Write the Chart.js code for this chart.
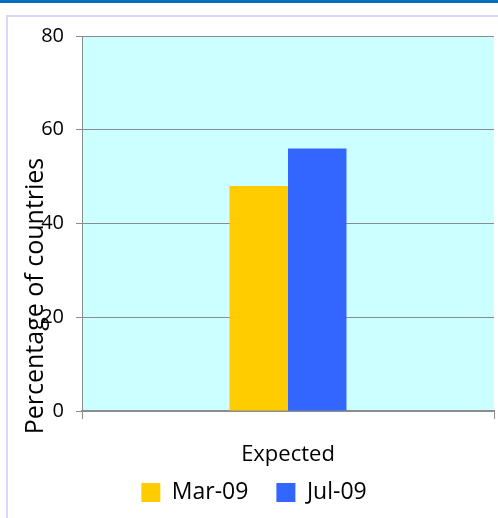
<!DOCTYPE html>
<html>
<head>
<meta charset="utf-8">
<script src="https://cdn.jsdelivr.net/npm/chart.js@4/dist/chart.umd.min.js"></script>
<style>
body{margin:0;background:#fff;overflow:hidden;}
#wrap{position:relative;width:498px;height:518px;}
#topBand{position:absolute;left:0;top:0;width:498px;height:3px;background:#0070c0;}
#frame{position:absolute;left:6px;top:15px;width:600px;height:600px;border:2px solid #d8d8fc;}
#barChart{position:absolute;left:0;top:0;}
</style>
</head>
<body>
<div id="wrap">
<div id="topBand"></div>
<div id="frame"></div>
<canvas id="barChart" width="498" height="518"></canvas>
</div>
<script>
var categories = ["Expected"];//one category on the x axis
var marValues = [48];//Mar-09 series
var julValues = [56];//Jul-09 series
var seriesNames = ["Mar-09", "Jul-09"];
var yTicks = [0, 20, 40, 60, 80];
var yTitle = "Percentage of countries";

var fontName = "'Open Sans', sans-serif";

//fills the plot area with the light cyan colour and draws the y axis title
var plotBack = {
	id: "plotBack",
	beforeDraw: function(chart){
		var a = chart.chartArea;
		var c = chart.ctx;
		c.save();
		c.fillStyle = "#ccffff";
		c.fillRect(a.left, a.top, a.right - a.left, a.bottom - a.top);
		c.restore();
	},
	afterDraw: function(chart){
		var c = chart.ctx;
		c.save();
		c.translate(43, 296);
		c.rotate(-Math.PI / 2);
		c.font = "25px " + fontName;
		c.fillStyle = "#000";
		c.textAlign = "center";
		c.textBaseline = "alphabetic";
		c.fillText(yTitle, 0, 0);
		c.restore();
	}
};

var ctx = document.getElementById("barChart").getContext("2d");
var chart = new Chart(ctx, {
	type: "bar",
	data: {
		labels: categories,
		datasets: [
			{label: seriesNames[0], data: marValues, backgroundColor: "#ffcc00"},
			{label: seriesNames[1], data: julValues, backgroundColor: "#3366ff"}
		]
	},
	options: {
		responsive: false,
		animation: false,
		layout: {padding: {left: 14, right: 4, top: 36, bottom: 4}},
		datasets: {bar: {barPercentage: 1, categoryPercentage: 0.284}},
		scales: {
			x: {
				afterFit: function(scale){ scale.height = 42; },
				grid: {drawOnChartArea: false, tickLength: 8, color: "#8c8c8c"},
				border: {color: "#8c8c8c", width: 2},
				//mirror keeps the label from being clipped to the short axis box
				ticks: {font: {family: fontName, size: 22}, color: "#000", mirror: true, padding: -57}
			},
			y: {
				min: 0,
				max: 80,
				afterFit: function(scale){ scale.width = 68; },
				afterBuildTicks: function(scale){
					scale.ticks = yTicks.map(function(v){ return {value: v}; });
				},
				grid: {color: "#8c8c8c", tickLength: 6},
				border: {color: "#8c8c8c"},
				ticks: {font: {family: fontName, size: 20}, color: "#000", padding: 12}
			}
		},
		plugins: {
			legend: {
				position: "bottom",
				labels: {
					boxWidth: 19,
					boxHeight: 19,
					padding: 28,
					color: "#000",
					font: {family: fontName, size: 23}
				}
			},
			tooltip: {enabled: false}
		}
	},
	plugins: [plotBack]
});
</script>
</body>
</html>
